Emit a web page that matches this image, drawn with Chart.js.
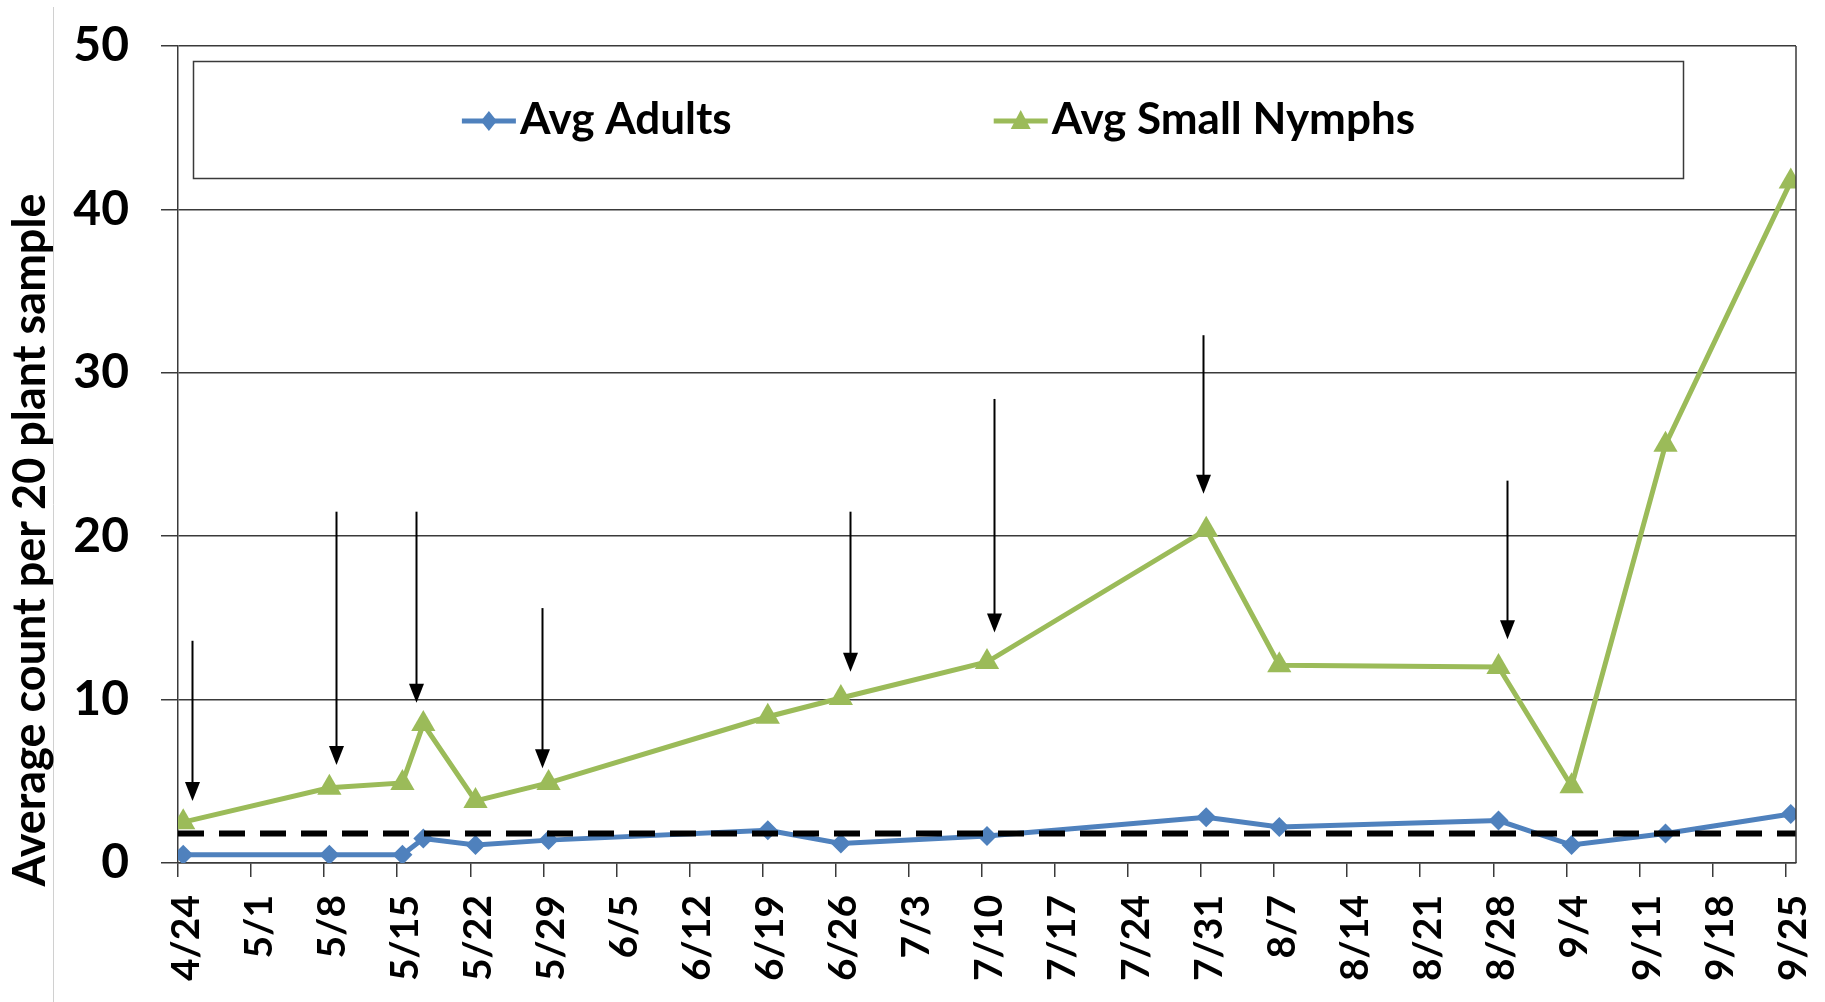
<!DOCTYPE html>
<html>
<head>
<meta charset="utf-8">
<title>Average count per 20 plant sample</title>
<script src="https://cdn.jsdelivr.net/npm/chart.js@4.4.1/dist/chart.umd.min.js"></script>
<style>
  html, body { margin: 0; padding: 0; background: #fff; }
  #wrap { position: relative; width: 1825px; height: 1002px; }
</style>
</head>
<body>
<div id="wrap"><canvas id="countChart"></canvas></div>
<script>
// sample dates and counts
const sampleDates = ["4/24", "5/8", "5/15", "5/17", "5/22", "5/29", "6/19", "6/26",
  "7/10", "7/31", "8/7", "8/28", "9/4", "9/13", "9/25"];
const avgAdults = [0.5, 0.5, 0.5, 1.5, 1.1, 1.4, 2.0, 1.2, 1.65, 2.8, 2.2, 2.6, 1.1, 1.8, 3.0];
const avgSmallNymphs = [2.5, 4.6, 4.9, 8.5, 3.8, 4.9, 8.95, 10.1, 12.3, 20.4, 12.1, 12.0, 4.7, 25.6, 41.7];
const threshold = 1.8;

const tickLabels = ["4/24", "5/1", "5/8", "5/15", "5/22", "5/29", "6/5", "6/12", "6/19",
  "6/26", "7/3", "7/10", "7/17", "7/24", "7/31", "8/7", "8/14", "8/21", "8/28", "9/4",
  "9/11", "9/18", "9/25"];

// arrows: days after 4/24, top and tip values
const arrowDays = [1.3, 15.1, 22.8, 34.9, 64.4, 78.2, 98.2, 127.3];
const arrowTop = [13.6, 21.5, 21.5, 15.6, 21.5, 28.4, 32.3, 23.4];
const arrowTip = [3.8, 6.0, 9.8, 5.8, 11.7, 14.1, 22.6, 13.7];

const BLUE = "#4F81BD";
const GREEN = "#9BBB59";
const LINE = "#3a3a3a";

const START = Date.UTC(2013, 3, 24);
function dayOf(md) {
  const [m, d] = md.split("/").map(Number);
  return (Date.UTC(2013, m - 1, d) - START) / 86400000;
}
const labelByDay = {};
tickLabels.forEach(l => { labelByDay[dayOf(l)] = l; });

// points sit in the middle of their day slot
const pts = vals => vals.map((v, i) => ({ x: dayOf(sampleDates[i]) + 0.5, y: v }));
const xMax = dayOf(tickLabels[tickLabels.length - 1]) + 1;

Chart.defaults.font.family = "Lato";

const extras = {
  id: "extras",
  beforeDraw(chart) {
    const ctx = chart.ctx;
    ctx.save();
    ctx.strokeStyle = "#d0d0d0";
    ctx.lineWidth = 1;
    ctx.beginPath();
    ctx.moveTo(53.5, 7);
    ctx.lineTo(53.5, chart.height);
    ctx.stroke();
    ctx.restore();
  },
  afterDatasetsDraw(chart) {
    const { ctx, chartArea, scales } = chart;
    ctx.save();
    // right frame
    ctx.strokeStyle = LINE;
    ctx.lineWidth = 1.5;
    ctx.beginPath();
    ctx.moveTo(chartArea.right, chartArea.top);
    ctx.lineTo(chartArea.right, chartArea.bottom);
    ctx.stroke();

    // arrows
    ctx.strokeStyle = "#000";
    ctx.fillStyle = "#000";
    ctx.lineWidth = 2;
    arrowDays.forEach((d, i) => {
      const x = Math.round(scales.x.getPixelForValue(d)) + 0.5;
      const y1 = scales.y.getPixelForValue(arrowTop[i]);
      const y2 = scales.y.getPixelForValue(arrowTip[i]);
      ctx.beginPath();
      ctx.moveTo(x, y1);
      ctx.lineTo(x, y2 - 12);
      ctx.stroke();
      ctx.beginPath();
      ctx.moveTo(x - 7.5, y2 - 19);
      ctx.lineTo(x + 7.5, y2 - 19);
      ctx.lineTo(x, y2);
      ctx.closePath();
      ctx.fill();
    });

    // legend box
    ctx.strokeStyle = LINE;
    ctx.lineWidth = 1.5;
    ctx.fillStyle = "#fff";
    const bx = 193.5, by = 61.5, bw = 1490, bh = 117;
    ctx.fillRect(bx, by, bw, bh);
    ctx.strokeRect(bx, by, bw, bh);

    ctx.font = "bold 44px Lato";
    ctx.textBaseline = "middle";
    ctx.textAlign = "left";
    const items = chart.data.datasets.filter(ds => ds.label);
    const gap = 262;
    const widths = items.map(ds => 58 + ctx.measureText(ds.label).width);
    const total = widths.reduce((a, b) => a + b, 0) + gap * (items.length - 1);
    let x = bx + (bw - total) / 2;
    const ly = 121;
    items.forEach((ds, i) => {
      ctx.strokeStyle = ds.borderColor;
      ctx.lineWidth = 5;
      ctx.beginPath();
      ctx.moveTo(x, ly);
      ctx.lineTo(x + 54, ly);
      ctx.stroke();
      ctx.fillStyle = ds.borderColor;
      ctx.beginPath();
      if (ds.pointStyle === "triangle") {
        ctx.moveTo(x + 27, ly - 11);
        ctx.lineTo(x + 37, ly + 8);
        ctx.lineTo(x + 17, ly + 8);
      } else {
        ctx.moveTo(x + 27, ly - 10);
        ctx.lineTo(x + 35, ly);
        ctx.lineTo(x + 27, ly + 10);
        ctx.lineTo(x + 19, ly);
      }
      ctx.closePath();
      ctx.fill();
      ctx.fillStyle = "#000";
      ctx.fillText(ds.label, x + 58, ly - 1);
      x += widths[i] + gap;
    });

    // y axis title
    ctx.translate(30, 540);
    ctx.rotate(-Math.PI / 2);
    ctx.textAlign = "center";
    ctx.font = "bold 45px Lato";
    ctx.fillText("Average count per 20 plant sample", 0, 0);
    ctx.restore();
  }
};

new Chart(document.getElementById("countChart"), {
  type: "line",
  data: {
    datasets: [
      {
        data: [{ x: 0, y: threshold }, { x: xMax, y: threshold }],
        borderColor: "#000",
        borderWidth: 6,
        borderDash: [26, 15],
        pointRadius: 0
      },
      {
        label: "Avg Adults",
        data: pts(avgAdults),
        borderColor: BLUE,
        backgroundColor: BLUE,
        borderWidth: 5,
        pointStyle: "rectRot",
        pointRadius: 10,
        pointBorderWidth: 0
      },
      {
        label: "Avg Small Nymphs",
        data: pts(avgSmallNymphs),
        borderColor: GREEN,
        backgroundColor: GREEN,
        borderWidth: 5,
        pointStyle: "triangle",
        pointRadius: 14,
        pointBorderWidth: 0
      }
    ]
  },
  options: {
    responsive: true,
    maintainAspectRatio: false,
    animation: false,
    layout: { autoPadding: false, padding: { left: 0, right: 29, top: 46, bottom: 0 } },
    plugins: { legend: { display: false }, tooltip: { enabled: false } },
    scales: {
      x: {
        type: "linear",
        min: 0,
        max: xMax,
        afterBuildTicks: scale => {
          scale.ticks = tickLabels.map(l => ({ value: dayOf(l) }));
        },
        afterFit: scale => {
          scale.height = 139;
          scale.paddingLeft = 0;
          scale.paddingRight = 0;
        },
        grid: { drawOnChartArea: false, color: LINE, lineWidth: 1.5, tickLength: 14 },
        border: { color: LINE, width: 1.5 },
        ticks: {
          autoSkip: false,
          minRotation: 90,
          maxRotation: 90,
          padding: 18,
          labelOffset: 8,
          color: "#000",
          font: { size: 39, weight: "bold" },
          callback: v => labelByDay[v]
        }
      },
      y: {
        min: 0,
        max: 50,
        afterFit: scale => {
          scale.width = 178;
          scale.paddingTop = 0;
          scale.paddingBottom = 0;
        },
        grid: { color: LINE, lineWidth: 1.5, tickLength: 17 },
        border: { color: LINE, width: 1.5 },
        ticks: {
          stepSize: 10,
          padding: 32,
          color: "#000",
          font: { size: 48, weight: "bold" }
        }
      }
    }
  },
  plugins: [extras]
});
</script>
</body>
</html>
